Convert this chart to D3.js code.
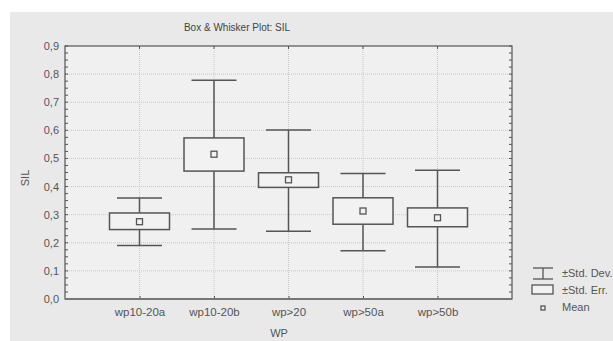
<!DOCTYPE html>
<html>
<head>
<meta charset="utf-8">
<script src="https://cdn.jsdelivr.net/npm/d3@7"></script>
<style>
  body { margin: 0; background: #ffffff; }
  svg { display: block; font-family: "Liberation Sans", Arial, sans-serif; }
</style>
</head>
<body>
<div id="chart"></div>
<script>
// Box & Whisker data (mean, ±std. err., ±std. dev.)
const categories = ['wp10-20a', 'wp10-20b', 'wp>20', 'wp>50a', 'wp>50b'];
const means   = [0.275, 0.515, 0.424, 0.313, 0.289];
const seLow   = [0.247, 0.455, 0.397, 0.266, 0.257];
const seHigh  = [0.306, 0.573, 0.449, 0.360, 0.324];
const sdLow   = [0.190, 0.249, 0.241, 0.172, 0.114];
const sdHigh  = [0.359, 0.778, 0.601, 0.446, 0.458];
const yTicks  = [0, 0.1, 0.2, 0.3, 0.4, 0.5, 0.6, 0.7, 0.8, 0.9];
const legendItems = ['±Std. Dev.', '±Std. Err.', 'Mean'];

const W = 613, H = 341;
const margin = { top: 46, right: 101, bottom: 42, left: 65 };
const width = W - margin.left - margin.right;
const height = H - margin.top - margin.bottom;
const ink = '#555555';
const txt = '#555555';

const svg = d3.select('#chart').append('svg')
    .attr('width', W)
    .attr('height', H);

// outer grey panel
svg.append('rect')
    .attr('x', 10).attr('y', 12)
    .attr('width', W - 10).attr('height', H - 12)
    .attr('fill', '#e9e9e9');

svg.append('text')
    .attr('x', 237).attr('y', 31)
    .attr('text-anchor', 'middle')
    .attr('font-size', 10)
    .attr('fill', '#444')
    .text('Box & Whisker Plot: SIL');

const g = svg.append('g')
    .attr('transform', `translate(${margin.left},${margin.top})`);

g.append('rect')
    .attr('width', width).attr('height', height)
    .attr('fill', '#f0f0f0');

const x = d3.scaleLinear().domain([0, categories.length + 1]).range([0, width]);
const y = d3.scaleLinear().domain([0, 0.9]).range([height, 0]);

// gridlines
g.selectAll('.hgrid')
    .data(yTicks.slice(1, -1))
    .enter().append('line')
    .attr('x1', 0).attr('x2', width)
    .attr('y1', d => y(d)).attr('y2', d => y(d))
    .attr('stroke', '#c8c8c8')
    .attr('stroke-dasharray', '1,1');

g.selectAll('.vgrid')
    .data(categories)
    .enter().append('line')
    .attr('x1', (d, i) => x(i + 1)).attr('x2', (d, i) => x(i + 1))
    .attr('y1', 0).attr('y2', height)
    .attr('stroke', '#c8c8c8')
    .attr('stroke-dasharray', '1,1');

// y axis with labels
const yAxis = g.append('g')
    .call(d3.axisLeft(y).tickValues(yTicks).tickSize(0).tickPadding(6)
        .tickFormat(d => d3.format('.1f')(d).replace('.', ',')));
yAxis.select('.domain').remove();
yAxis.selectAll('text').attr('font-size', 11).attr('fill', txt)
    .attr('font-family', '"Liberation Sans", Arial, sans-serif');

// minor ticks inside left and right axes
const minor = d3.range(0, 0.9001, 0.025);
g.selectAll('.mtl')
    .data(minor)
    .enter().append('line')
    .attr('x1', 0).attr('x2', 3)
    .attr('y1', d => y(d)).attr('y2', d => y(d))
    .attr('stroke', ink);
g.selectAll('.mtr')
    .data(minor)
    .enter().append('line')
    .attr('x1', width - 3).attr('x2', width)
    .attr('y1', d => y(d)).attr('y2', d => y(d))
    .attr('stroke', ink);

// x axis labels
const xAxis = g.append('g')
    .attr('transform', `translate(0,${height})`)
    .call(d3.axisBottom(x).tickValues(d3.range(1, categories.length + 1))
        .tickSize(-3).tickPadding(9)
        .tickFormat(d => categories[d - 1]));
xAxis.select('.domain').remove();
xAxis.selectAll('.tick line').attr('stroke', ink);
xAxis.selectAll('text').attr('font-size', 11.5).attr('fill', txt)
    .attr('font-family', '"Liberation Sans", Arial, sans-serif');

// top ticks
g.selectAll('.tt')
    .data(categories)
    .enter().append('line')
    .attr('x1', (d, i) => x(i + 1)).attr('x2', (d, i) => x(i + 1))
    .attr('y1', 0).attr('y2', 3)
    .attr('stroke', ink);

// frame
g.append('rect')
    .attr('width', width).attr('height', height)
    .attr('fill', 'none')
    .attr('stroke', ink)
    .attr('stroke-width', 1.2);
g.append('line')
    .attr('x1', 0).attr('x2', width)
    .attr('y1', height).attr('y2', height)
    .attr('stroke', '#777').attr('stroke-width', 2);

// boxes
const boxW = 60, capW = 45, meanS = 6;
categories.forEach((c, i) => {
    const cx = x(i + 1);
    const grp = g.append('g').attr('stroke', ink).attr('stroke-width', 1.5);
    grp.append('line')
        .attr('x1', cx).attr('x2', cx)
        .attr('y1', y(sdHigh[i])).attr('y2', y(seHigh[i]));
    grp.append('line')
        .attr('x1', cx).attr('x2', cx)
        .attr('y1', y(seLow[i])).attr('y2', y(sdLow[i]));
    grp.append('line')
        .attr('x1', cx - capW / 2).attr('x2', cx + capW / 2)
        .attr('y1', y(sdHigh[i])).attr('y2', y(sdHigh[i]));
    grp.append('line')
        .attr('x1', cx - capW / 2).attr('x2', cx + capW / 2)
        .attr('y1', y(sdLow[i])).attr('y2', y(sdLow[i]));
    grp.append('rect')
        .attr('x', cx - boxW / 2).attr('y', y(seHigh[i]))
        .attr('width', boxW).attr('height', y(seLow[i]) - y(seHigh[i]))
        .attr('fill', '#f2f2f2');
    grp.append('rect')
        .attr('x', cx - meanS / 2).attr('y', y(means[i]) - meanS / 2)
        .attr('width', meanS).attr('height', meanS)
        .attr('fill', '#f2f2f2').attr('stroke-width', 1.3);
});

// axis titles
svg.append('text')
    .attr('transform', 'translate(29,178) rotate(-90)')
    .attr('text-anchor', 'middle')
    .attr('font-size', 11)
    .attr('fill', txt)
    .text('SIL');
svg.append('text')
    .attr('x', 279).attr('y', 337)
    .attr('text-anchor', 'middle')
    .attr('font-size', 11)
    .attr('fill', txt)
    .text('WP');

// legend
const lg = svg.append('g').attr('stroke', ink).attr('stroke-width', 1.3);
lg.append('line').attr('x1', 533).attr('x2', 553).attr('y1', 268).attr('y2', 268);
lg.append('line').attr('x1', 533).attr('x2', 553).attr('y1', 279).attr('y2', 279);
lg.append('line').attr('x1', 543).attr('x2', 543).attr('y1', 268).attr('y2', 279);
lg.append('rect').attr('x', 532).attr('y', 285).attr('width', 21).attr('height', 9).attr('fill', '#f2f2f2');
lg.append('rect').attr('x', 541).attr('y', 306).attr('width', 4).attr('height', 4).attr('fill', '#f2f2f2');

svg.selectAll('.legtext')
    .data(legendItems)
    .enter().append('text')
    .attr('x', 562)
    .attr('y', (d, i) => 277 + i * 17)
    .attr('font-size', 11)
    .attr('fill', txt)
    .text(d => d);
</script>
</body>
</html>
